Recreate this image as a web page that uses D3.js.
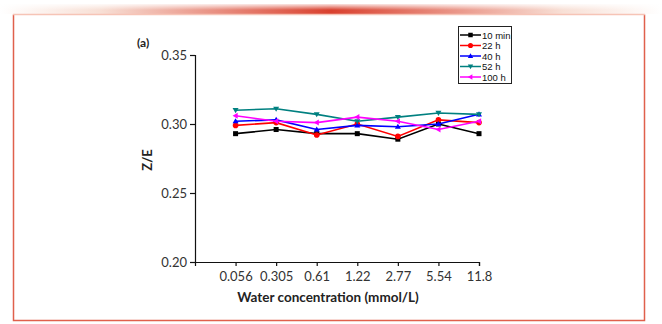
<!DOCTYPE html>
<html>
<head>
<meta charset="utf-8">
<script src="https://cdn.jsdelivr.net/npm/d3@7"></script>
<style>
  body { margin: 0; background: #fff; }
  svg { display: block; }
</style>
</head>
<body>
<svg width="662" height="324"></svg>
<script>
// water concentration categories (mmol/L)
var categories = ["0.056", "0.305", "0.61", "1.22", "2.77", "5.54", "11.8"];
var yTicks = [0.20, 0.25, 0.30, 0.35];

var seriesNames = ["10 min", "22 h", "40 h", "52 h", "100 h"];
var min10 = [0.293, 0.296, 0.293, 0.293, 0.289, 0.300, 0.293];
var h22   = [0.299, 0.301, 0.292, 0.300, 0.291, 0.303, 0.301];
var h40   = [0.302, 0.303, 0.296, 0.299, 0.298, 0.300, 0.307];
var h52   = [0.310, 0.311, 0.307, 0.302, 0.305, 0.308, 0.307];
var h100  = [0.306, 0.302, 0.301, 0.305, 0.302, 0.296, 0.302];

var series = [
  { name: seriesNames[0], values: min10, color: "#000000", shape: "square" },
  { name: seriesNames[1], values: h22,   color: "#ff0000", shape: "circle" },
  { name: seriesNames[2], values: h40,   color: "#0000ff", shape: "up" },
  { name: seriesNames[3], values: h52,   color: "#008080", shape: "down" },
  { name: seriesNames[4], values: h100,  color: "#ff00ff", shape: "left" }
];

var svg = d3.select("svg");
var defs = svg.append("defs");

// decorative band over the frame
var grad = defs.append("linearGradient").attr("id", "band").attr("x1", "0").attr("x2", "1");
grad.append("stop").attr("offset", "0").attr("stop-color", "#fff");
grad.append("stop").attr("offset", "0.15").attr("stop-color", "#f8e0d6");
grad.append("stop").attr("offset", "0.5").attr("stop-color", "#d9402e");
grad.append("stop").attr("offset", "0.85").attr("stop-color", "#f8e0d6");
grad.append("stop").attr("offset", "1").attr("stop-color", "#fff");
var fade = defs.append("linearGradient").attr("id", "fade").attr("x1", "0").attr("x2", "0").attr("y1", "0").attr("y2", "1");
fade.append("stop").attr("offset", "0").attr("stop-color", "#fff").attr("stop-opacity", 0.85);
fade.append("stop").attr("offset", "0.6").attr("stop-color", "#fff").attr("stop-opacity", 0);
defs.append("mask").attr("id", "bandMask")
  .append("rect").attr("x", 0).attr("y", 3).attr("width", 662).attr("height", 12).attr("fill", "#fff");

svg.append("rect").attr("x", 0).attr("y", 4).attr("width", 662).attr("height", 10).attr("fill", "url(#band)");
svg.append("rect").attr("x", 0).attr("y", 4).attr("width", 662).attr("height", 10).attr("fill", "url(#fade)");

// frame
svg.append("path")
  .attr("d", "M13.5,14.5 V320.5 H644.5 V14.5")
  .attr("fill", "none").attr("stroke", "#e0604c").attr("stroke-width", 1.5);
svg.append("line").attr("x1", 13).attr("x2", 645).attr("y1", 14.5).attr("y2", 14.5)
  .attr("stroke", "#f6c4b6").attr("stroke-width", 1.5);

var x = d3.scaleLinear().domain([0, categories.length]).range([195, 479]);
var y = d3.scaleLinear().domain([0.20, 0.35]).range([262, 55]);

var xAxis = d3.axisBottom(x)
  .tickValues(d3.range(1, categories.length + 1))
  .tickFormat(function(d) { return categories[d - 1]; })
  .tickSizeOuter(0).tickSize(4).tickPadding(6);
var yAxis = d3.axisLeft(y)
  .tickValues(yTicks)
  .tickFormat(d3.format(".2f"))
  .tickSizeOuter(0).tickSize(5).tickPadding(3);

var gx = svg.append("g").attr("transform", "translate(0,262)").call(xAxis);
var gy = svg.append("g").attr("transform", "translate(195,0)").call(yAxis);

[gx, gy].forEach(function(g) {
  g.select(".domain").attr("stroke", "#111").attr("stroke-width", 1.2);
  g.selectAll(".tick line").attr("stroke", "#111").attr("stroke-width", 1.2);
  g.selectAll(".tick text").attr("fill", "#333")
    .style("font-family", "Lato, 'Open Sans', sans-serif").style("font-size", "13px");
});

svg.append("text").attr("x", 328).attr("y", 302).attr("text-anchor", "middle")
  .style("font-family", "Lato, 'Open Sans', sans-serif").style("font-weight", "bold")
  .style("font-size", "13.5px").attr("fill", "#222")
  .text("Water concentration (mmol/L)");

svg.append("text").attr("transform", "translate(152,160) rotate(-90)").attr("text-anchor", "middle")
  .style("font-family", "Lato, 'Open Sans', sans-serif").style("font-weight", "bold")
  .style("font-size", "13px").attr("fill", "#222")
  .text("Z/E");

svg.append("text").attr("x", 137).attr("y", 47)
  .style("font-family", "Lato, 'Open Sans', sans-serif").style("font-weight", "bold")
  .style("font-size", "12px").attr("fill", "#222")
  .text("(a)");

// marker symbols
function marker(sel, shape, color, size) {
  var s = size;
  if (shape === "square") {
    sel.append("rect").attr("x", -s / 2).attr("y", -s / 2).attr("width", s).attr("height", s).attr("fill", color);
  } else if (shape === "circle") {
    sel.append("circle").attr("r", s / 2 + 0.3).attr("fill", color);
  } else {
    var pts;
    var h = s * 0.6;
    if (shape === "up") pts = [[0, -h], [h, h * 0.7], [-h, h * 0.7]];
    else if (shape === "down") pts = [[0, h], [h, -h * 0.7], [-h, -h * 0.7]];
    else pts = [[-h, 0], [h * 0.7, -h], [h * 0.7, h]];
    sel.append("polygon").attr("points", pts.map(function(p) { return p.join(","); }).join(" ")).attr("fill", color);
  }
}

var line = d3.line()
  .x(function(d, i) { return x(i + 1); })
  .y(function(d) { return y(d); });

series.forEach(function(s) {
  svg.append("path").datum(s.values)
    .attr("d", line).attr("fill", "none")
    .attr("stroke", s.color).attr("stroke-width", 1.6);
  svg.selectAll(null).data(s.values).enter().append("g")
    .attr("transform", function(d, i) { return "translate(" + x(i + 1) + "," + y(d) + ")"; })
    .each(function() { marker(d3.select(this), s.shape, s.color, 5); });
});

// legend
var lg = svg.append("g").attr("transform", "translate(458,26)");
lg.append("rect").attr("x", 0.5).attr("y", 0.5).attr("width", 53).attr("height", 57)
  .attr("fill", "#fff").attr("stroke", "#222").attr("stroke-width", 1);
series.forEach(function(s, i) {
  var row = lg.append("g").attr("transform", "translate(0," + (9 + i * 10.5) + ")");
  row.append("line").attr("x1", 2).attr("x2", 23).attr("stroke", s.color).attr("stroke-width", 1.5);
  var m = row.append("g").attr("transform", "translate(12.5,0)");
  marker(m, s.shape, s.color, 4.5);
  row.append("text").attr("x", 24).attr("y", 3.5)
    .style("font-family", "Arial, 'Liberation Sans', sans-serif").style("font-size", "9.5px")
    .attr("fill", "#111").text(s.name);
});
</script>
</body>
</html>
